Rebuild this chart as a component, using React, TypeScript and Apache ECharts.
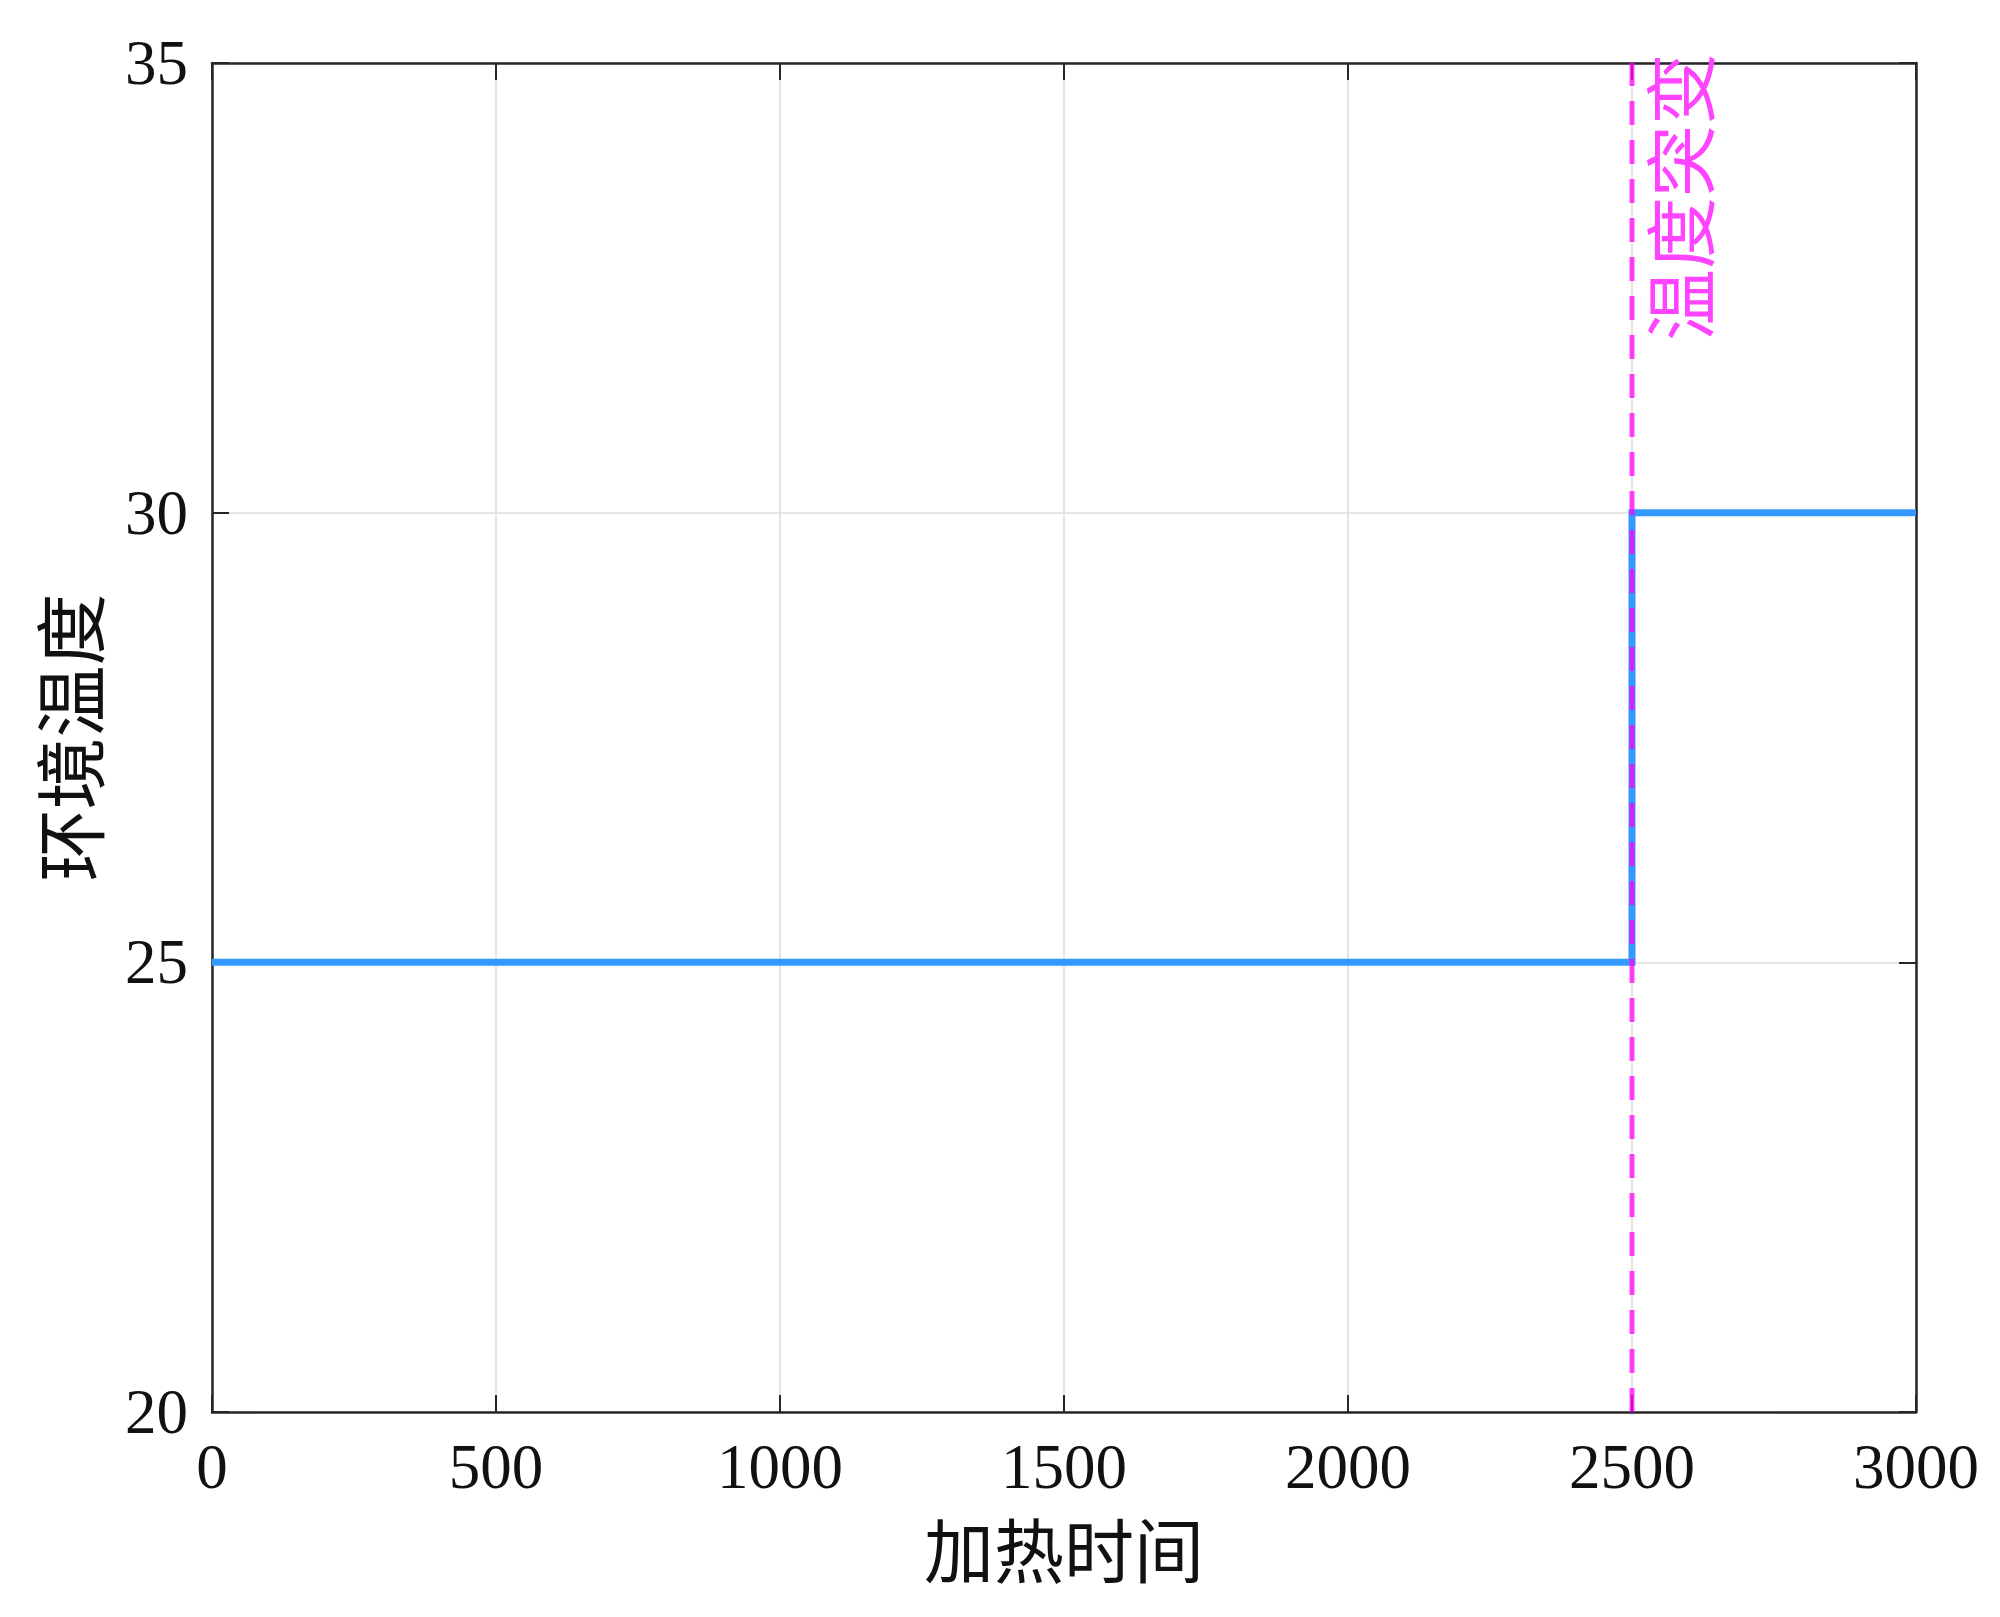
import React, { useEffect, useRef } from "react";
import * as echarts from "echarts";

// Data
const times = [0, 2500, 2500, 3000];
const temps = [25, 25, 30, 30];
const changeTime = 2500;
const changeLabel = "温度突变";
const xName = "加热时间";
const yName = "环境温度";
const xMin = 0, xMax = 3000, xStep = 500;
const yMin = 20, yMax = 35, yStep = 5;

const AXIS_COLOR = "#262626";
const GRID_COLOR = "#dddddd";
const SERIF = "'Liberation Serif', 'Times New Roman', serif";
const CJK = "'Noto Sans CJK SC', sans-serif";

export default function App() {
  const ref = useRef<HTMLDivElement>(null);
  useEffect(() => {
    if (!ref.current) return;
    const chart = echarts.init(ref.current, undefined, { renderer: "svg" });
    const tickCommon = {
      show: true,
      inside: true,
      length: 17,
      lineStyle: { color: AXIS_COLOR, width: 2 },
    };
    const lineCommon = { show: true, onZero: false, lineStyle: { color: AXIS_COLOR, width: 2.5 } };
    chart.setOption({
      animation: false,
      backgroundColor: "#ffffff",
      grid: { left: 212, top: 63, width: 1704, height: 1349, containLabel: false },
      xAxis: [
        {
          type: "value",
          position: "bottom",
          min: xMin,
          max: xMax,
          interval: xStep,
          axisLine: lineCommon,
          axisTick: tickCommon,
          splitLine: { show: true, lineStyle: { color: GRID_COLOR, width: 1.5 } },
          axisLabel: {
            color: "#111",
            fontFamily: SERIF,
            fontSize: 63,
            margin: 23,
            formatter: (v: number) => String(v),
          },
          name: xName,
          nameLocation: "middle",
          nameGap: 100,
          nameTextStyle: { color: "#111", fontFamily: CJK, fontSize: 70 },
        },
        {
          type: "value",
          position: "top",
          min: xMin,
          max: xMax,
          interval: xStep,
          axisLine: lineCommon,
          axisTick: tickCommon,
          splitLine: { show: false },
          axisLabel: { show: false },
        },
      ],
      yAxis: [
        {
          type: "value",
          position: "left",
          min: yMin,
          max: yMax,
          interval: yStep,
          axisLine: lineCommon,
          axisTick: tickCommon,
          splitLine: { show: true, lineStyle: { color: GRID_COLOR, width: 1.5 } },
          axisLabel: {
            color: "#111",
            fontFamily: SERIF,
            fontSize: 63,
            margin: 24,
            formatter: (v: number) => String(v),
          },
          name: yName,
          nameLocation: "middle",
          nameRotate: 90,
          nameGap: 110,
          nameTextStyle: { color: "#111", fontFamily: CJK, fontSize: 72 },
        },
        {
          type: "value",
          position: "right",
          min: yMin,
          max: yMax,
          interval: yStep,
          axisLine: lineCommon,
          axisTick: tickCommon,
          splitLine: { show: false },
          axisLabel: { show: false },
        },
      ],
      series: [
        {
          type: "line",
          data: times.map((t, i) => [t, temps[i]]),
          showSymbol: false,
          symbol: "none",
          lineStyle: { color: "#3399ff", width: 7, join: "miter" },
          z: 3,
        },
        {
          type: "line",
          data: [
            [changeTime, yMin],
            [changeTime, yMax],
          ],
          showSymbol: false,
          symbol: "none",
          lineStyle: { color: "#ff00ff", width: 5, type: [24, 15], opacity: 0.75 },
          z: 4,
        },
      ],
      graphic: [
        {
          type: "text",
          x: 1676,
          y: 197,
          rotation: Math.PI / 2,
          style: {
            text: changeLabel,
            fill: "#ff44ff",
            font: `72px ${CJK}`,
            textAlign: "center",
            textVerticalAlign: "middle",
          },
          z: 10,
        },
      ],
    });
    return () => chart.dispose();
  }, []);
  return (
    <div
      ref={ref}
      style={{ position: "fixed", left: 0, top: 0, width: 2000, height: 1617, background: "#fff" }}
    />
  );
}
